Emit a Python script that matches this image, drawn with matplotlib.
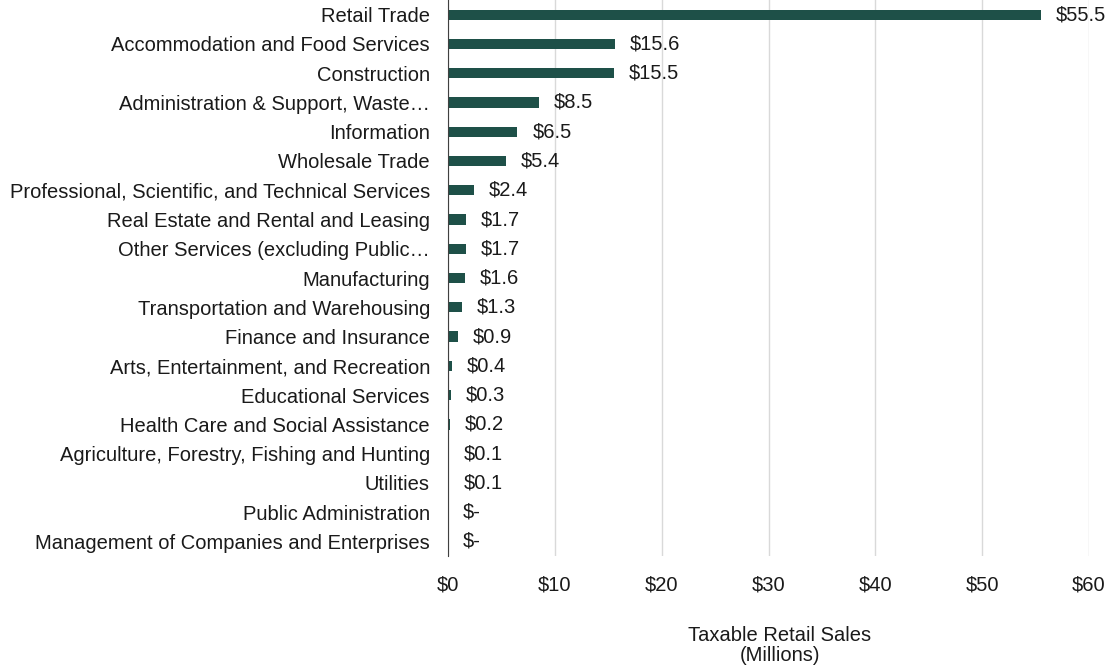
import matplotlib
matplotlib.use("Agg")
import matplotlib.pyplot as plt
import numpy as np

plt.rcParams['font.family'] = ['Liberation Sans', 'DejaVu Sans']

# industries, top to bottom as in the chart
industries = [
    "Retail Trade",
    "Accommodation and Food Services",
    "Construction",
    "Administration & Support, Waste\u2026",
    "Information",
    "Wholesale Trade",
    "Professional, Scientific, and Technical Services",
    "Real Estate and Rental and Leasing",
    "Other Services (excluding Public\u2026",
    "Manufacturing",
    "Transportation and Warehousing",
    "Finance and Insurance",
    "Arts, Entertainment, and Recreation",
    "Educational Services",
    "Health Care and Social Assistance",
    "Agriculture, Forestry, Fishing and Hunting",
    "Utilities",
    "Public Administration",
    "Management of Companies and Enterprises",
]
# taxable retail sales, millions
sales = [55.5, 15.6, 15.5, 8.5, 6.5, 5.4, 2.4, 1.7, 1.7, 1.6,
         1.3, 0.9, 0.4, 0.3, 0.2, 0.1, 0.1, 0.0, 0.0]
xticks = [0, 10, 20, 30, 40, 50, 60]

fs = 14.5
fig = plt.figure(figsize=(11.1, 6.7), dpi=100)
ax = fig.add_axes([0.4036, 0.170, 0.5775, 0.830])

y = np.arange(len(industries))
ax.barh(y, sales, height=0.35, color='#1e5048', zorder=3)

for yi, v in zip(y, sales):
    lab = "$-" if v == 0 else f"${v:.1f}"
    ax.text(v + 1.4, yi, lab, va='center', ha='left', fontsize=fs, color='#1a1a1a')

ax.set_ylim(len(industries) - 0.5, -0.5)
ax.set_xlim(0, 60)
ax.set_yticks(y)
ax.set_yticklabels(industries, fontsize=fs, color='#1a1a1a')
ax.set_xticks(xticks)
ax.set_xticklabels([f"${t}" for t in xticks], fontsize=fs, color='#1a1a1a')
ax.tick_params(axis='both', length=0)
ax.tick_params(axis='y', pad=13)
ax.tick_params(axis='x', pad=14)

ax.grid(axis='x', color='#d9d9d9', linewidth=1, zorder=0)
for s in ['top', 'right', 'bottom']:
    ax.spines[s].set_visible(False)
ax.spines['left'].set_color('#404040')
ax.spines['left'].set_zorder(4)

ax.set_xlabel("Taxable Retail Sales\n(Millions)", fontsize=fs, color='#1a1a1a', linespacing=1.1)
ax.xaxis.set_label_coords(0.518, -0.125)

fig.savefig("out.png", dpi=100)
